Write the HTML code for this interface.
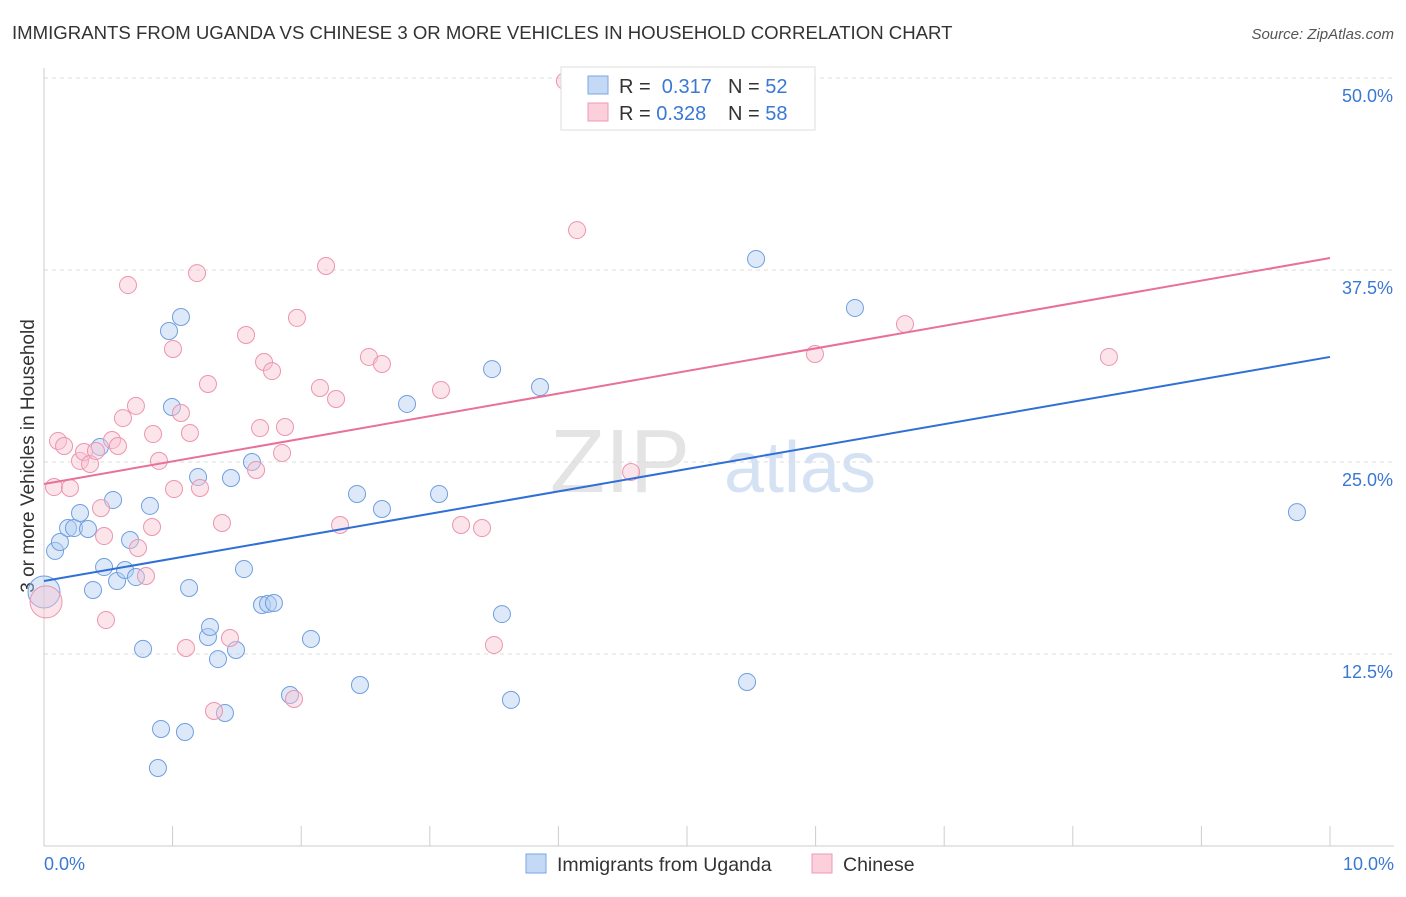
<!DOCTYPE html>
<html><head><meta charset="utf-8"><style>
body{margin:0;background:#fff;font-family:"Liberation Sans",sans-serif;}
svg text{font-family:"Liberation Sans",sans-serif;}
</style></head><body>
<svg id="chart" width="1406" height="892">
<text x="12" y="39" font-size="18.6" fill="#333">IMMIGRANTS FROM UGANDA VS CHINESE 3 OR MORE VEHICLES IN HOUSEHOLD CORRELATION CHART</text>
<text x="1394" y="39" font-size="15" fill="#555" font-style="italic" text-anchor="end">Source: ZipAtlas.com</text>
<text x="620" y="492" font-size="90" fill="#e4e4e4" font-family="Liberation Serif" text-anchor="middle">ZIP</text>
<text x="800" y="492" font-size="72" fill="#d5e2f3" text-anchor="middle">atlas</text>
<text transform="translate(34,456) rotate(-90)" font-size="19" fill="#333" text-anchor="middle">3 or more Vehicles in Household</text>
<g id="grid"></g><g id="marks"></g>
<g>
<rect x="561" y="67" width="254" height="63" fill="#fff" stroke="#ddd"/>
<rect x="588" y="76" width="20" height="18" fill="#c4d9f5" stroke="#7aa6e0"/>
<rect x="588" y="103" width="20" height="18" fill="#fbd0dc" stroke="#ee9ab3"/>
<text x="619" y="93" font-size="20" fill="#333">R = <tspan fill="#3a78d4">&#160;0.317</tspan><tspan x="728">N = </tspan><tspan fill="#3a78d4">52</tspan></text>
<text x="619" y="120" font-size="20" fill="#333">R = <tspan fill="#3a78d4">0.328</tspan><tspan x="728">N = </tspan><tspan fill="#3a78d4">58</tspan></text>
</g>
<g>
<rect x="526" y="854" width="20" height="19" fill="#c4d9f5" stroke="#7aa6e0"/>
<text x="557" y="871" font-size="19.5" fill="#333">Immigrants from Uganda</text>
<rect x="812" y="854" width="20" height="19" fill="#fbd0dc" stroke="#ee9ab3"/>
<text x="843" y="871" font-size="19.5" fill="#333">Chinese</text>
</g>
</svg>
<script>
const yTicks=[12.5,25,37.5,50];
const yTickLabels=["12.5%","25.0%","37.5%","50.0%"];
const xTickLabels=["0.0%","10.0%"];
const ugandaX=[0.086,0.124,0.187,0.233,0.28,0.342,0.381,0.435,0.467,0.537,0.568,0.63,0.669,0.715,0.77,0.824,0.886,0.91,0.972,0.995,1.065,1.096,1.128,1.198,1.275,1.291,1.353,1.407,1.454,1.493,1.555,1.617,1.695,1.742,1.788,1.913,2.076,2.434,2.457,2.628,2.823,3.072,3.484,3.561,3.631,3.857,5.467,5.537,6.306,9.743,0];
const ugandaY=[19.21,19.79,20.70,20.70,21.68,20.64,16.67,25.98,18.16,22.53,17.25,17.97,19.92,17.51,12.83,22.14,5.08,7.62,33.53,28.58,34.44,7.42,16.80,24.02,13.61,14.26,12.17,8.66,23.96,12.76,18.03,25.0,15.69,15.76,15.82,9.83,13.48,22.92,10.48,21.94,28.78,22.92,31.05,15.10,9.51,29.88,10.68,38.22,35.03,21.74,16.54];
const chineseX=[0.016,0.078,0.109,0.156,0.202,0.28,0.311,0.358,0.404,0.443,0.467,0.482,0.529,0.575,0.614,0.653,0.715,0.731,0.793,0.84,0.848,0.894,1.011,1.003,1.065,1.104,1.135,1.19,1.213,1.275,1.322,1.384,1.446,1.571,1.649,1.68,1.711,1.773,1.851,1.874,1.944,1.967,2.146,2.193,2.271,2.302,2.527,2.628,3.087,3.243,3.406,3.499,4.051,4.145,4.565,5.995,6.695,8.281];
const chineseY=[15.89,23.37,26.37,26.04,23.31,25.07,25.65,24.87,25.72,22.0,20.18,14.71,26.43,26.04,27.86,36.52,28.65,19.40,17.58,20.77,26.82,25.07,23.24,32.36,28.19,12.89,26.89,37.30,23.31,30.08,8.79,21.03,13.54,33.27,24.48,27.21,31.51,30.92,25.59,27.28,9.57,34.38,29.82,37.76,29.10,20.90,31.84,31.38,29.69,20.90,20.70,13.09,49.80,40.10,24.35,32.03,33.98,31.84];
const ugandaTrend=[17.25,31.84];
const chineseTrend=[23.57,38.28];
const NS="http://www.w3.org/2000/svg";
const X=v=>44+v*128.6, Y=v=>846-v*15.36;
function mk(tag,attrs,parent){const e=document.createElementNS(NS,tag);for(const k in attrs)e.setAttribute(k,attrs[k]);parent.appendChild(e);return e;}
const grid=document.getElementById('grid'), marks=document.getElementById('marks');
yTicks.forEach((t,i)=>{
 const l=mk('line',{x1:44,x2:1394,y1:Y(t),y2:Y(t),stroke:'#ddd','stroke-dasharray':'4,4'},grid);
 
 
 const tx=mk('text',{x:1393,y:Y(t)+24,'font-size':18,fill:'#3a78d4','text-anchor':'end'},grid);
 tx.textContent=yTickLabels[i];
 
 
});
const ax=mk('line',{x1:44,x2:44,y1:68,y2:846,stroke:'#ccc'},grid);


const bx=mk('line',{x1:44,x2:1394,y1:846,y2:846,stroke:'#ccc'},grid);


for(let i=0;i<=10;i++){
 const t=mk('line',{x1:X(i),x2:X(i),y1:826,y2:846,stroke:'#ccc'},grid);
 
 
}
[[0,'start',44],[10,'end',1394]].forEach((a,i)=>{
 const t=mk('text',{x:a[2],y:870,'font-size':18,fill:'#3a78d4','text-anchor':a[1]},grid);
 t.textContent=xTickLabels[i];
 
 
});
function pts(xs,ys,fill,stroke,name){
 xs.forEach((x,i)=>{
  const big=(x===0||x<0.02);
  const c=mk('circle',{cx:X(x),cy:Y(ys[i]),r:big?16:8.5,fill:fill,'fill-opacity':0.45,stroke:stroke,'stroke-width':1},marks);
  
  
 });
}
pts(ugandaX,ugandaY,'#b4cff2','#6f9fdf','uganda-point');
pts(chineseX,chineseY,'#f9c3d3','#ec95ae','chinese-point');
const l1=mk('line',{x1:X(0),y1:Y(ugandaTrend[0]),x2:X(10),y2:Y(ugandaTrend[1]),stroke:'#2f6fd6','stroke-width':2},marks);


const l2=mk('line',{x1:X(0),y1:Y(chineseTrend[0]),x2:X(10),y2:Y(chineseTrend[1]),stroke:'#e8709a','stroke-width':2},marks);


</script>
</body></html>
